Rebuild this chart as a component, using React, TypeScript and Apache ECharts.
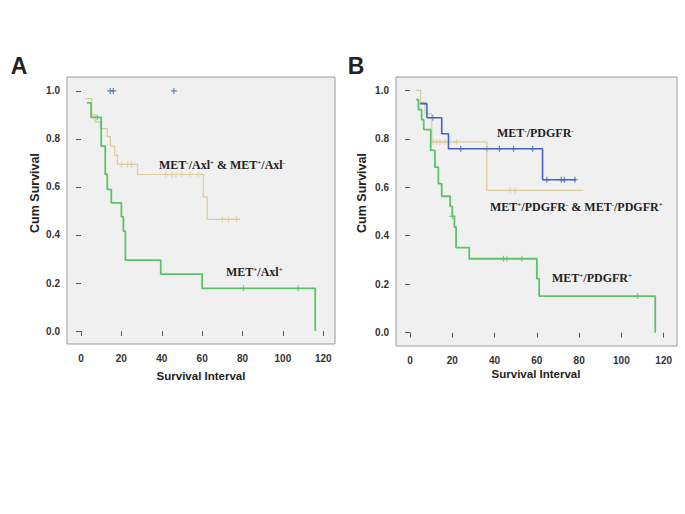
import React, { useEffect, useRef } from "react";
import * as echarts from "echarts";

const xTicks = [0, 20, 40, 60, 80, 100, 120];
const yTicks = [0, 0.2, 0.4, 0.6, 0.8, 1.0];

// Panel A — Kaplan-Meier steps [time, survival after event]
const aGreenSteps = [
  [3, 0.95], [5, 0.89], [10, 0.77], [12, 0.653], [13, 0.59], [15, 0.534],
  [20, 0.476], [21, 0.416], [22, 0.295], [39.5, 0.237], [60, 0.178], [116, 0],
];
const aGreenCensor = [[8, 0.89], [80.5, 0.178], [107.5, 0.178]];
const aTanSteps = [
  [2, 0.968], [5.3, 0.9], [7, 0.871], [9.6, 0.843], [13, 0.81], [14.6, 0.77],
  [16.7, 0.732], [18, 0.694], [28, 0.652], [60.6, 0.559], [62.5, 0.465], [78.7, 0.465],
];
const aTanCensor = [
  [20, 0.694], [23, 0.694], [25, 0.694], [42, 0.652], [45, 0.652], [47, 0.652],
  [50, 0.652], [54, 0.652], [58, 0.652], [70, 0.465], [73, 0.465], [77, 0.465],
];
const aBlueCensor = [[14.5, 1.0], [16, 1.0], [46, 1.0]];

// Panel B
const bBlueSteps = [
  [4.7, 0.945], [8, 0.887], [15, 0.821], [18.2, 0.759], [62.7, 0.631], [78.5, 0.631],
];
const bBlueCensor = [
  [10.7, 0.887], [24, 0.759], [36.3, 0.759], [42.3, 0.759], [49, 0.759], [58, 0.759],
  [64.7, 0.631], [71.6, 0.631], [73, 0.631], [78, 0.631],
];
const bTanSteps = [
  [3, 1.0], [5, 0.95], [7, 0.904], [10.3, 0.787], [36.3, 0.587], [82, 0.587],
];
const bTanCensor = [
  [11, 0.787], [12.6, 0.787], [14.2, 0.787], [16.6, 0.787], [22, 0.787],
  [47.4, 0.587], [49.7, 0.587],
];
const bGreenSteps = [
  [2.8, 0.962], [4, 0.92], [5.5, 0.879], [6.5, 0.838], [9.8, 0.752], [11.8, 0.683],
  [13.4, 0.615], [15, 0.563], [19, 0.521], [20, 0.48], [21, 0.436], [21.8, 0.351],
  [28, 0.305], [60, 0.223], [61.1, 0.151], [116, 0],
];
const bGreenCensor = [[20, 0.48], [44.2, 0.305], [45.8, 0.305], [52.9, 0.305], [107.7, 0.151]];

const GREEN = "#5cc36c";
const TAN = "#d9cd9c";
const BLUE = "#4563bb";
const PLUS = "path://M4,0h2v4h4v2h-4v4h-2v-4h-4v-2h4z";

function stepLine(data: number[][], color: string, width: number, idx: number) {
  return {
    type: "line", step: "end", data, xAxisIndex: idx, yAxisIndex: idx,
    symbol: "none", showSymbol: false, silent: true,
    lineStyle: { color, width },
  };
}
function censor(data: number[][], color: string, idx: number) {
  return {
    type: "scatter", data, xAxisIndex: idx, yAxisIndex: idx,
    symbol: PLUS, symbolSize: 6, silent: true,
    itemStyle: { color },
  };
}

function xAxis(idx: number, min: number, max: number) {
  return {
    type: "value", gridIndex: idx, min, max,
    axisLine: { show: false },
    splitLine: { show: false },
    axisTick: { show: true, customValues: xTicks, length: 5, lineStyle: { color: "#555" } },
    axisLabel: {
      customValues: xTicks, margin: 9, color: "#333", fontSize: 10,
      fontWeight: "bold", fontFamily: "Liberation Sans",
    },
  };
}
function yAxis(idx: number, min: number, max: number) {
  return {
    type: "value", gridIndex: idx, min, max,
    axisLine: { show: false },
    splitLine: { show: false },
    axisTick: { show: true, customValues: yTicks, length: 5, lineStyle: { color: "#555" } },
    axisLabel: {
      customValues: yTicks, margin: 7, color: "#333", fontSize: 10,
      fontWeight: "bold", fontFamily: "Liberation Sans",
      formatter: (v: number) => v.toFixed(1),
    },
  };
}

const serifB = { fontFamily: "Liberation Serif", fontWeight: "bold", fontSize: 12, fill: "#222", color: "#222" };
const sup = { fontFamily: "Liberation Serif", fontWeight: "bold", fontSize: 7, color: "#222", verticalAlign: "top" };

function label(text: string, x: number, y: number) {
  return {
    type: "text", x, y,
    style: {
      text, rich: { b: serifB, s: sup },
      textAlign: "left", textVerticalAlign: "middle",
      ...serifB,
    },
  };
}
function sans(text: string, x: number, y: number, size: number, rotation = 0, weight = "bold") {
  return {
    type: "text", x, y, rotation,
    style: {
      text, fontFamily: "Liberation Sans", fontWeight: weight, fontSize: size,
      fill: "#222", textAlign: "center", textVerticalAlign: "middle",
    },
  };
}

export default function App() {
  const ref = useRef<HTMLDivElement>(null);
  useEffect(() => {
    const chart = echarts.init(ref.current!, null, { renderer: "svg" });
    chart.setOption({
      animation: false,
      backgroundColor: "#ffffff",
      grid: [
        { left: 67, top: 77, width: 268, height: 267, show: true, backgroundColor: "#f0f0f0", borderColor: "#9a9a9a", borderWidth: 1 },
        { left: 396, top: 77, width: 281, height: 269, show: true, backgroundColor: "#f0f0f0", borderColor: "#9a9a9a", borderWidth: 1 },
      ],
      xAxis: [xAxis(0, -6.93, 125.8), xAxis(1, -6.63, 126.3)],
      yAxis: [yAxis(0, -0.054, 1.058), yAxis(1, -0.055, 1.055)],
      series: [
        stepLine(aTanSteps, TAN, 1.2, 0),
        censor(aTanCensor, TAN, 0),
        censor(aBlueCensor, BLUE, 0),
        stepLine(aGreenSteps, GREEN, 1.8, 0),
        censor(aGreenCensor, GREEN, 0),
        stepLine(bTanSteps, TAN, 1.2, 1),
        censor(bTanCensor, TAN, 1),
        stepLine(bBlueSteps, BLUE, 1.6, 1),
        censor(bBlueCensor, BLUE, 1),
        stepLine(bGreenSteps, GREEN, 1.8, 1),
        censor(bGreenCensor, GREEN, 1),
      ],
      graphic: [
        sans("A", 19, 66, 23),
        sans("B", 356, 66, 23),
        sans("Cum Survival", 35, 193, 12.5, Math.PI / 2),
        sans("Cum Survival", 362, 193, 12.5, Math.PI / 2),
        sans("Survival Interval", 201, 376, 11.5),
        sans("Survival Interval", 536, 374, 11.5),
        label("{b|MET}{s|-}{b|/Axl}{s|+}{b| & MET}{s|+}{b|/Axl}{s|-}", 159, 165),
        label("{b|MET}{s|+}{b|/Axl}{s|+}", 226, 272),
        label("{b|MET}{s|-}{b|/PDGFR}{s|-}", 497, 133),
        label("{b|MET}{s|+}{b|/PDGFR}{s|-}{b| & MET}{s|-}{b|/PDGFR}{s|+}", 490, 207),
        label("{b|MET}{s|+}{b|/PDGFR}{s|+}", 552, 278),
      ],
    });
    return () => chart.dispose();
  }, []);
  return <div ref={ref} style={{ position: "fixed", left: 0, top: 0, width: 685, height: 514 }} />;
}
